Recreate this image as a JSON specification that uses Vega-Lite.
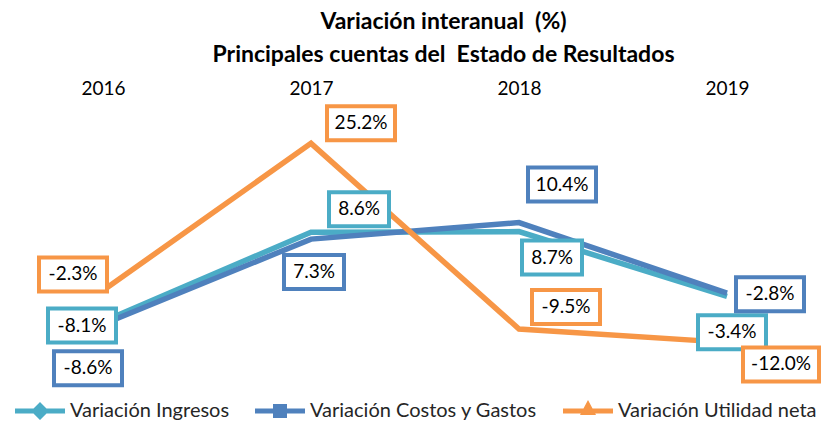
{
  "$schema": "https://vega.github.io/schema/vega-lite/v6.json",
  "width": 825,
  "height": 290,
  "autosize": {"type": "none"},
  "padding": {"left": 0, "right": 0, "top": 100, "bottom": 33},
  "background": "white",
  "title": {
    "text": ["Variación interanual \u00a0(%)", "Principales cuentas del \u00a0Estado de Resultados"],
    "font": "Lato", "fontSize": 23, "fontWeight": "bold", "color": "#000000",
    "anchor": "middle", "frame": "group", "lineHeight": 33, "offset": 12, "dx": 31
  },
  "config": {"view": {"stroke": null}},
  "data": {
    "values": [
      {"year": "2016", "serie": "Variación Ingresos", "v": -8.1},
      {"year": "2017", "serie": "Variación Ingresos", "v": 8.6},
      {"year": "2018", "serie": "Variación Ingresos", "v": 8.7},
      {"year": "2019", "serie": "Variación Ingresos", "v": -3.4},
      {"year": "2016", "serie": "Variación Costos y Gastos", "v": -8.6},
      {"year": "2017", "serie": "Variación Costos y Gastos", "v": 7.3},
      {"year": "2018", "serie": "Variación Costos y Gastos", "v": 10.4},
      {"year": "2019", "serie": "Variación Costos y Gastos", "v": -2.8},
      {"year": "2016", "serie": "Variación Utilidad neta", "v": -2.3},
      {"year": "2017", "serie": "Variación Utilidad neta", "v": 25.2},
      {"year": "2018", "serie": "Variación Utilidad neta", "v": -9.5},
      {"year": "2019", "serie": "Variación Utilidad neta", "v": -12.0}
    ]
  },
  "transform": [
    {"calculate": "replace(format(datum.v, '.1f'), '\u2212', '-') + '%'", "as": "label"}
  ],
  "encoding": {
    "x": {
      "field": "year", "type": "ordinal",
      "scale": {"type": "point", "range": [103, 727], "padding": 0},
      "axis": {"orient": "top", "title": null, "domain": false, "ticks": false, "grid": false,
               "labelFont": "Lato", "labelFontSize": 19, "labelColor": "#000000", "labelPadding": 2, "labelAngle": 0}
    },
    "y": {
      "field": "v", "type": "quantitative",
      "scale": {"domain": [-20.9, 33.3], "nice": false, "zero": false},
      "axis": null
    }
  },
  "layer": [
    {
      "mark": {"type": "line", "strokeWidth": 5.5},
      "encoding": {
        "color": {
          "field": "serie", "type": "nominal",
          "scale": {"domain": ["Variación Ingresos", "Variación Costos y Gastos", "Variación Utilidad neta"],
                    "range": ["#4BACC6", "#4F81BD", "#F79646"]},
          "legend": {
            "orient": "none", "legendX": 15, "legendY": 286, "direction": "horizontal", "title": null,
            "labelFont": "Lato", "labelFontSize": 20, "labelColor": "#262626", "labelLimit": 400,
            "symbolSize": 2500, "columnPadding": 25, "labelOffset": 5,
            "encode": {
              "symbols": {
                "update": {
                  "shape": {"signal": "datum.value === 'Variación Ingresos' ? 'M-1,-0.1H1V0.1H-1Z M0,-0.36L0.36,0L0,0.36L-0.36,0Z' : datum.value === 'Variación Costos y Gastos' ? 'M-1,-0.1H1V0.1H-1Z M-0.28,-0.28H0.28V0.28H-0.28Z' : 'M-1,-0.1H1V0.1H-1Z M0,-0.44L0.32,0.16H-0.32Z'"},
                  "fill": {"scale": "color", "field": "value"},
                  "stroke": {"value": "transparent"},
                  "strokeWidth": {"value": 0},
                  "opacity": {"value": 1}
                }
              }
            }
          }
        },
        "order": {"field": "year"}
      }
    },
    {
      "mark": {
        "type": "point", "filled": false, "fill": "white", "fillOpacity": 1, "opacity": 1,
        "strokeWidth": 4, "size": 10000,
        "shape": {"expr": "length(datum.label) == 4 ? 'M-0.6,-0.34H0.6V0.34H-0.6Z' : length(datum.label) == 6 ? 'M-0.76,-0.34H0.76V0.34H-0.76Z' : 'M-0.68,-0.34H0.68V0.34H-0.68Z'"},
        "xOffset": {"expr": "[-21,48,33,5,-15,3,43,43,-30,50,47,54][indexof(['Variación Ingresos','Variación Costos y Gastos','Variación Utilidad neta'], datum.serie)*4 + indexof(['2016','2017','2018','2019'], datum.year)]"},
        "yOffset": {"expr": "[4,-23,26,36,44,33,-38,1,-16,-20,-22,22][indexof(['Variación Ingresos','Variación Costos y Gastos','Variación Utilidad neta'], datum.serie)*4 + indexof(['2016','2017','2018','2019'], datum.year)]"}
      },
      "encoding": {
        "stroke": {"field": "serie", "type": "nominal", "scale": {"domain": ["Variación Ingresos", "Variación Costos y Gastos", "Variación Utilidad neta"], "range": ["#4BACC6", "#4F81BD", "#F79646"]}, "legend": null}
      }
    },
    {
      "mark": {
        "type": "text", "font": "Lato", "fontSize": 19, "color": "#000000", "baseline": "middle", "align": "center",
        "xOffset": {"expr": "[-21,48,33,5,-15,3,43,43,-30,50,47,54][indexof(['Variación Ingresos','Variación Costos y Gastos','Variación Utilidad neta'], datum.serie)*4 + indexof(['2016','2017','2018','2019'], datum.year)]"},
        "yOffset": {"expr": "[4,-23,26,36,44,33,-38,1,-16,-20,-22,22][indexof(['Variación Ingresos','Variación Costos y Gastos','Variación Utilidad neta'], datum.serie)*4 + indexof(['2016','2017','2018','2019'], datum.year)]"}
      },
      "encoding": {
        "text": {"field": "label"}
      }
    }
  ]
}
